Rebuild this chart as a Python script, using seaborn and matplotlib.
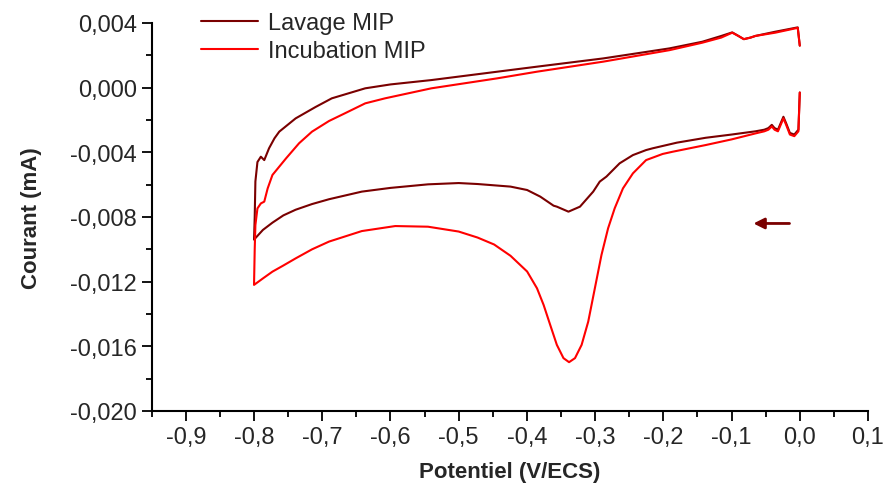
import pandas as pd
import seaborn as sns
import matplotlib
matplotlib.use("Agg")
import matplotlib.pyplot as plt
from matplotlib.ticker import MultipleLocator, FuncFormatter

# Lavage MIP : balayage aller (0 -> -0,8 V) puis retour (-0,8 -> 0 V)
lavage_potentiel = [
    0.000, -0.002, -0.008, -0.0145, -0.020, -0.024, -0.028, -0.032, -0.037, -0.041,
    -0.046, -0.052, -0.065, -0.100, -0.138, -0.180, -0.2156, -0.2253, -0.2446, -0.2641,
    -0.2834, -0.2932, -0.3028, -0.3222, -0.3391, -0.3561, -0.3609, -0.3804, -0.3997, -0.424,
    -0.4724, -0.500, -0.545, -0.600, -0.642, -0.690, -0.715, -0.739, -0.757, -0.773,
    -0.787, -0.800,
    -0.799, -0.798, -0.795, -0.790, -0.785, -0.778, -0.770, -0.763, -0.739, -0.710,
    -0.686, -0.637, -0.600, -0.540, -0.443, -0.385, -0.288, -0.191, -0.143, -0.115,
    -0.099, -0.090, -0.082, -0.072, -0.065, -0.036, -0.003, 0.000,
]
lavage_courant = [
    -0.0003, -0.0026, -0.0029, -0.0028, -0.0022, -0.0018, -0.0022, -0.0026, -0.0025, -0.0023,
    -0.0025, -0.0026, -0.0027, -0.0029, -0.0031, -0.0034, -0.00375, -0.00386, -0.00417, -0.00468,
    -0.00550, -0.00581, -0.00643, -0.00736, -0.00767, -0.00736, -0.00730, -0.00674, -0.00633, -0.00612,
    -0.00596, -0.0059, -0.00598, -0.0062, -0.00643, -0.0069, -0.0072, -0.00755, -0.0079, -0.00835,
    -0.0088, -0.0094,
    -0.0080, -0.0058, -0.0046, -0.00427, -0.00448, -0.00375, -0.00313, -0.00272, -0.0019, -0.0012,
    -0.00066, -0.00004, 0.0002, 0.00047, 0.00099, 0.0013, 0.00181, 0.00243, 0.00284, 0.0032,
    0.00342, 0.0032, 0.0030, 0.0031, 0.0032, 0.00346, 0.00373, 0.0026,
]

# Incubation MIP
incubation_potentiel = [
    0.000, -0.002, -0.008, -0.0145, -0.020, -0.024, -0.028, -0.032, -0.037, -0.041,
    -0.046, -0.052, -0.065, -0.100, -0.138, -0.186, -0.2010, -0.2253, -0.2446, -0.2592,
    -0.2713, -0.2810, -0.2907, -0.3004, -0.3101, -0.3198, -0.3295, -0.3382, -0.3464, -0.3561,
    -0.3658, -0.3755, -0.3852, -0.3997, -0.424, -0.4481, -0.4724, -0.500, -0.545, -0.593,
    -0.642, -0.690, -0.715, -0.739, -0.757, -0.773, -0.787, -0.800,
    -0.799, -0.798, -0.795, -0.790, -0.785, -0.780, -0.773, -0.753, -0.734, -0.715,
    -0.690, -0.667, -0.637, -0.608, -0.540, -0.443, -0.385, -0.288, -0.191, -0.143,
    -0.115, -0.099, -0.090, -0.082, -0.072, -0.065, -0.036, -0.003, 0.000,
]
incubation_courant = [
    -0.0003, -0.0027, -0.0030, -0.0029, -0.0023, -0.0019, -0.0023, -0.0027, -0.0026, -0.0024,
    -0.0026, -0.0027, -0.00283, -0.0032, -0.00355, -0.00396, -0.0041, -0.00448, -0.00530, -0.00623,
    -0.00746, -0.00870, -0.01035, -0.01241, -0.01447, -0.01591, -0.01673, -0.01698, -0.01673, -0.01591,
    -0.01468, -0.01344, -0.01241, -0.01137, -0.0104, -0.0097, -0.00927, -0.0089, -0.0086, -0.00856,
    -0.00887, -0.00952, -0.0100, -0.01056, -0.0110, -0.01138, -0.0118, -0.0122,
    -0.0100, -0.0085, -0.00747, -0.00716, -0.00705, -0.00623, -0.0054, -0.00437, -0.00344, -0.00272,
    -0.00206, -0.00159, -0.00097, -0.00066, -0.00004, 0.00058, 0.00099, 0.00161, 0.00232, 0.00278,
    0.0031, 0.0034, 0.0032, 0.0030, 0.0031, 0.0032, 0.0034, 0.0037, 0.0026,
]

series_names = ["Lavage MIP", "Incubation MIP"]
couleurs = ["#7a0000", "#ff0000"]

# fleche indiquant le sens du balayage
fleche_debut = (-0.011, -0.0084)
fleche_fin = (-0.072, -0.0084)

df1 = pd.DataFrame({"Potentiel": lavage_potentiel, "Courant": lavage_courant})
df1["serie"] = series_names[0]
df2 = pd.DataFrame({"Potentiel": incubation_potentiel, "Courant": incubation_courant})
df2["serie"] = series_names[1]
res = pd.concat([df1, df2], ignore_index=True)

sns.set_style("ticks")
plt.rcParams['font.family'] = ['Liberation Sans', 'DejaVu Sans']

fig = plt.figure(figsize=(8.88, 4.85), dpi=100)
ax = fig.add_axes([151.7 / 888, 1 - 412 / 485, 716.3 / 888, 388 / 485])

sns.lineplot(data=res, x="Potentiel", y="Courant", hue="serie", sort=False,
             estimator=None, palette=dict(zip(series_names, couleurs)),
             linewidth=1.5, ax=ax)

ax.annotate("", xy=fleche_fin, xytext=fleche_debut,
            arrowprops=dict(arrowstyle="-|>", color="#7a0000", lw=2, mutation_scale=16))

ax.set_xlim(-0.95, 0.1)
ax.set_ylim(-0.020, 0.004)
ax.xaxis.set_major_locator(MultipleLocator(0.1))
ax.xaxis.set_minor_locator(MultipleLocator(0.05))
ax.yaxis.set_major_locator(MultipleLocator(0.004))
ax.yaxis.set_minor_locator(MultipleLocator(0.002))


def fmt_x(v, pos):
    if abs(v) < 1e-9:
        v = 0.0
    return f"{v:.1f}".replace(".", ",")


def fmt_y(v, pos):
    if abs(v) < 1e-9:
        v = 0.0
    return f"{v:.3f}".replace(".", ",")


ax.xaxis.set_major_formatter(FuncFormatter(fmt_x))
ax.yaxis.set_major_formatter(FuncFormatter(fmt_y))

ax.tick_params(which="major", length=7, width=1.3, labelsize=17, direction="out", color="black")
ax.tick_params(which="minor", length=4, width=1.3, direction="out", color="black")
for side in ["left", "bottom"]:
    ax.spines[side].set_linewidth(1.5)
    ax.spines[side].set_color("black")
sns.despine(ax=ax)

ax.set_xlabel("Potentiel (V/ECS)", fontsize=16, fontweight="bold", labelpad=10)
ax.set_ylabel("Courant (mA)", fontsize=16, fontweight="bold", labelpad=20)

ax.legend(loc="upper left", bbox_to_anchor=(0.053, 1.058), frameon=False,
          fontsize=17, handlelength=2.4, handletextpad=0.4, labelspacing=0.25,
          borderpad=0)

fig.savefig("out.png", dpi=100)
